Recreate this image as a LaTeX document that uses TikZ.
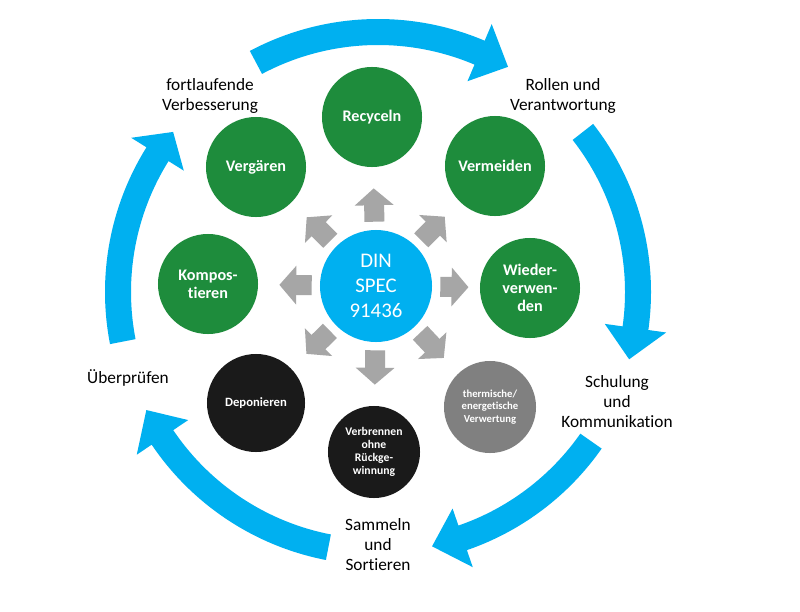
\documentclass[tikz,border=0pt]{standalone}
\usepackage{fontspec}
\setmainfont{Carlito}[Ligatures=NoCommon]
\usetikzlibrary{arrows.meta}
\definecolor{cycleblue}{RGB}{0,176,240}
\definecolor{wastegreen}{RGB}{30,140,60}
\definecolor{spokegray}{RGB}{166,166,166}
\definecolor{energygray}{RGB}{128,128,128}
\definecolor{disposeblack}{RGB}{26,26,26}
\tikzstyle{hub} = [circle, fill=cycleblue, text=white, minimum size=2.8cm, inner sep=0pt, align=center, font=\fontsize{14.8}{17.7}\selectfont]
\tikzstyle{greenop} = [circle, fill=wastegreen, text=white, minimum size=2.5cm, inner sep=0pt, align=center, font=\bfseries\fontsize{11.5}{12.8}\selectfont]
\tikzstyle{grayop} = [circle, fill=energygray, text=white, minimum size=2.3cm, inner sep=0pt, align=center, font=\bfseries\fontsize{7.6}{8.9}\selectfont]
\tikzstyle{blackop} = [circle, fill=disposeblack, text=white, minimum size=2.3cm, inner sep=0pt, align=center, font=\bfseries\fontsize{8.3}{9.4}\selectfont]
\tikzstyle{phase} = [align=center, font=\fontsize{12.3}{14.2}\selectfont]
\tikzstyle{spoke} = [draw=spokegray, line width=14.2pt, -{Triangle[length=12pt, width=27pt]}, shorten <=5.7pt, shorten >=15pt]
\tikzstyle{cyclearrow} = [fill=cycleblue]

\begin{document}
\begin{tikzpicture}[x=0.025cm, y=-0.025cm]
\useasboundingbox[fill=white] (0,0) rectangle (800,611);
\node (din) [hub] at (376,286) {DIN\\SPEC\\91436};
\node (recyceln) [greenop] at (372,117) {Recyceln};
\node (vermeiden) [greenop] at (495,166) {Vermeiden};
\node (wiederverwenden) [greenop] at (530,288) {Wieder-\\verwen-\\den};
\node (thermisch) [grayop] at (490,407) {thermische/\\energetische\\Verwertung};
\node (verbrennen) [blackop] at (374,452) {Verbrennen\\ohne\\Rückge-\\winnung};
\node (deponieren) [blackop, minimum size=2.45cm, font=\bfseries\fontsize{9}{10}\selectfont] at (256,403) {Deponieren};
\node (kompostieren) [greenop] at (208,284) {Kompos-\\tieren};
\node (vergaeren) [greenop] at (256,167) {Vergären};
\node (verbesserung) [phase] at (210,96) {fortlaufende\\Verbesserung};
\node (rollen) [phase] at (563,96) {Rollen und\\Verantwortung};
\node (schulung) [phase] at (617,402) {Schulung\\und\\Kommunikation};
\node (sammeln) [phase] at (378,545) {Sammeln\\und\\Sortieren};
\node (pruefen) [phase] at (128,378) {Überprüfen};
\draw [spoke] (din) -- (recyceln);
\draw [spoke] (din) -- (vermeiden);
\draw [spoke, shorten >=8pt] (din) -- (wiederverwenden);
\draw [spoke] (din) -- (thermisch);
\draw [spoke] (din) -- (verbrennen);
\draw [spoke] (din) -- (deponieren);
\draw [spoke] (din) -- (kompostieren);
\draw [spoke] (din) -- (vergaeren);
\begin{scope}[shift={(378,292)}, yscale=-1]
\foreach \tail/\base/\tip in {118/67/60, 38/-8/-15, -35/-71/-78, -101/-146/-153, -169/-212/-218}
  \fill [cyclearrow] (\tail:273) arc[start angle=\tail, end angle=\base, radius=273] -- (\base:291) -- (\tip:260) -- (\base:229) -- (\base:247) arc[start angle=\base, end angle=\tail, radius=247] -- cycle;
\end{scope}
\end{tikzpicture}
\end{document}
